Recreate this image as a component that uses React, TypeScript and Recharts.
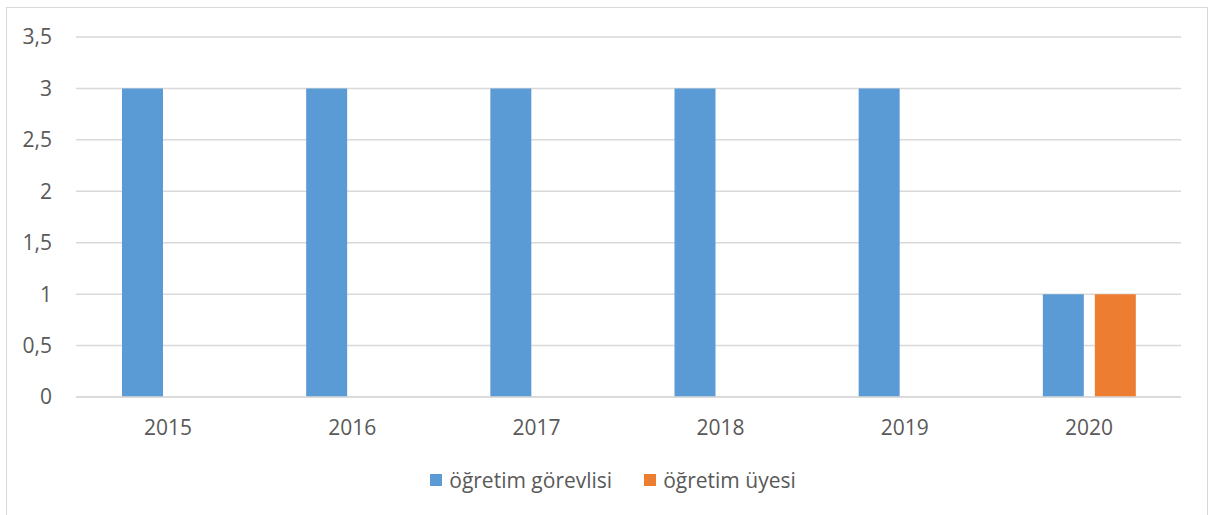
import { BarChart, Bar, XAxis, YAxis, CartesianGrid, Legend } from "recharts";

const years = ["2015", "2016", "2017", "2018", "2019", "2020"];
const gorevlisi = [3, 3, 3, 3, 3, 1];
const uyesi = [0, 0, 0, 0, 0, 1];
const yTicks = [0, 0.5, 1, 1.5, 2, 2.5, 3, 3.5];

const data = years.map((year, i) => ({
  year,
  gorevlisi: gorevlisi[i],
  uyesi: uyesi[i],
}));

const FONT = "'Open Sans', 'Noto Sans', sans-serif";
const TEXT = "#595959";

const labels: Record<string, string> = {
  gorevlisi: "öğretim görevlisi",
  uyesi: "öğretim üyesi",
};

function ChartLegend({ payload }: any) {
  return (
    <div style={{ display: "flex", justifyContent: "center", fontFamily: FONT, fontSize: 21, color: TEXT }}>
      {(payload || []).map((p: any, i: number) => (
        <div key={p.dataKey} style={{ display: "flex", alignItems: "center", marginLeft: i ? 32 : 0 }}>
          <span style={{ width: 12, height: 12, background: p.color, marginRight: 7, display: "inline-block" }} />
          <span>{labels[p.dataKey]}</span>
        </div>
      ))}
    </div>
  );
}

export default function App() {
  return (
    <div style={{ position: "absolute", left: 0, top: 0, width: 1212, height: 515, background: "#fff", overflow: "hidden" }}>
      <div
        style={{
          position: "absolute",
          left: 6,
          top: 7,
          width: 1202,
          height: 530,
          border: "1px solid #d9d9d9",
          boxSizing: "border-box",
        }}
      />
      <div style={{ position: "absolute", left: 0, top: 0 }}>
        <BarChart
          width={1212}
          height={515}
          data={data}
          margin={{ top: 37, right: 31, bottom: 68, left: 0 }}
          barSize={41}
          barGap={11}
        >
          <CartesianGrid vertical={false} stroke="#d9d9d9" strokeWidth={1.5} />
          <XAxis
            dataKey="year"
            axisLine={{ stroke: "#d9d9d9", strokeWidth: 1.5 }}
            tickLine={false}
            tickMargin={17}
            height={50}
            tick={{ fill: TEXT, fontSize: 21, fontFamily: FONT }}
          />
          <YAxis
            width={76}
            domain={[0, 3.5]}
            ticks={yTicks}
            interval={0}
            axisLine={false}
            tickLine={false}
            tickMargin={18}
            tickFormatter={(v: number) => String(v).replace(".", ",")}
            tick={{ fill: TEXT, fontSize: 21, fontFamily: FONT }}
          />
          <Legend
            layout="horizontal"
            align="center"
            verticalAlign="middle"
            wrapperStyle={{ top: 466, left: 7, width: 1212 }}
            content={<ChartLegend />}
          />
          <Bar dataKey="gorevlisi" fill="#5B9BD5" isAnimationActive={false} />
          <Bar dataKey="uyesi" fill="#ED7D31" isAnimationActive={false} />
        </BarChart>
      </div>
    </div>
  );
}
